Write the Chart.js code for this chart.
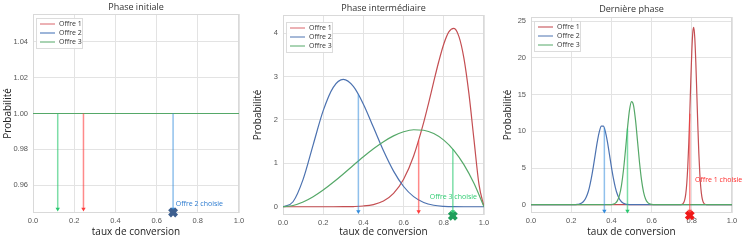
<!DOCTYPE html>
<html>
<head>
<meta charset="utf-8">
<script src="https://cdn.jsdelivr.net/npm/chart.js@4.4.1/dist/chart.umd.min.js"></script>
<style>
  body { margin: 0; background: #fff; width: 750px; height: 242px; position: relative; overflow: hidden; }
  .panel { position: absolute; top: 0; width: 250px; height: 242px; }
</style>
</head>
<body>
<div class="panel" style="left:0"><canvas id="c1" width="250" height="242"></canvas></div>
<div class="panel" style="left:250px"><canvas id="c2" width="250" height="242"></canvas></div>
<div class="panel" style="left:500px"><canvas id="c3" width="250" height="242"></canvas></div>
<script>
// --- donnees ---
const offres = ['Offre 1', 'Offre 2', 'Offre 3'];
const xTicks = [0, 0.2, 0.4, 0.6, 0.8, 1.0];

// phase initiale : lois uniformes
const p1X = [0, 1];
const p1Offre1 = [1, 1];
const p1Offre2 = [1, 1];
const p1Offre3 = [1, 1];
const p1YTicks = [0.96, 0.98, 1.00, 1.02, 1.04];
const p1Tirages = [0.245, 0.68, 0.12];
const p1Hauteurs = [1, 1, 1];

// phase intermediaire
const p2X = [0, 0.05, 0.1, 0.15, 0.2, 0.25, 0.3, 0.35, 0.4, 0.45, 0.5, 0.55, 0.6, 0.65, 0.7, 0.75, 0.8, 0.85, 0.9, 0.95, 1];
const p2Offre2 = [0, 0.115, 0.631, 1.428, 2.215, 2.753, 2.935, 2.773, 2.365, 1.831, 1.289, 0.821, 0.467, 0.233, 0.099, 0.034, 0.009, 0.001, 0, 0, 0];
const p2Offre3 = [0, 0.029, 0.108, 0.230, 0.384, 0.563, 0.756, 0.956, 1.152, 1.337, 1.5, 1.634, 1.728, 1.775, 1.764, 1.688, 1.536, 1.301, 0.972, 0.542, 0];
const p2XOffre1 = [0, 0.25, 0.3, 0.35, 0.4, 0.45, 0.5, 0.55, 0.6, 0.65, 0.7, 0.725, 0.75, 0.775, 0.8, 0.825, 0.85, 0.875, 0.9, 0.925, 0.95, 0.975, 1];
const p2Offre1 = [0, 0, 0.001, 0.005, 0.017, 0.051, 0.133, 0.308, 0.634, 1.170, 1.943, 2.401, 2.883, 3.348, 3.752, 4.030, 4.111, 3.928, 3.427, 2.606, 1.553, 0.517, 0];
const p2YTicks = [0, 1, 2, 3, 4];
const p2Tirages = [0.675, 0.375, 0.845];
const p2Hauteurs = [1.53, 2.59, 1.33];

// derniere phase
const p3XOffre1 = [0, 0.745, 0.75, 0.755, 0.76, 0.765, 0.77, 0.775, 0.78, 0.785, 0.79, 0.795, 0.8, 0.805, 0.81, 0.815, 0.82, 0.825, 0.83, 0.835, 0.84, 0.845, 0.85, 0.855, 0.86, 0.865, 0.87, 0.875, 1];
const p3Offre1 = [0, 0, 0.040, 0.114, 0.294, 0.691, 1.481, 2.893, 5.162, 8.399, 12.47, 16.88, 20.86, 23.50, 24.16, 22.65, 19.38, 15.12, 10.77, 6.994, 4.142, 2.240, 1.104, 0.496, 0.204, 0.076, 0.026, 0, 0];
const p3XOffre2 = [0, 0.21, 0.22, 0.23, 0.24, 0.25, 0.26, 0.27, 0.28, 0.29, 0.3, 0.31, 0.32, 0.33, 0.34, 0.35, 0.36, 0.37, 0.38, 0.39, 0.4, 0.41, 0.42, 0.43, 0.44, 0.45, 0.46, 0.47, 0.48, 0.49, 0.5, 1];
const p3Offre2 = [0, 0, 0.014, 0.036, 0.086, 0.193, 0.400, 0.772, 1.385, 2.308, 3.580, 5.156, 6.903, 8.594, 9.950, 10.70, 10.70, 9.950, 8.594, 6.903, 5.156, 3.580, 2.308, 1.385, 0.772, 0.400, 0.193, 0.086, 0.036, 0.014, 0, 0];
const p3XOffre3 = [0, 0.39, 0.4, 0.41, 0.42, 0.43, 0.44, 0.45, 0.46, 0.47, 0.48, 0.49, 0.5, 0.51, 0.52, 0.53, 0.54, 0.55, 0.56, 0.57, 0.58, 0.59, 0.6, 0.61, 0.62, 1];
const p3Offre3 = [0, 0, 0.021, 0.072, 0.212, 0.555, 1.279, 2.607, 4.688, 7.440, 10.42, 12.89, 14.06, 13.55, 11.52, 8.643, 5.725, 3.347, 1.727, 0.787, 0.316, 0.112, 0.035, 0.010, 0, 0];
const p3YTicks = [0, 5, 10, 15, 20, 25];
const p3Tirages = [0.79, 0.365, 0.48];
const p3Hauteurs = [12.4, 10.5, 10.4];

const couleurs = ['#c44e52', '#4c72b0', '#55a868'];
const couleursTirage = ['rgba(255,60,60,0.6)', 'rgba(52,140,220,0.55)', 'rgba(40,200,110,0.6)'];

function pts(xs, ys) {
    return xs.map((x, i) => ({ x: x, y: ys[i] }));
}

const decor = {
    id: 'decor',
    beforeDatasetsDraw(chart, args, o) {
        const { ctx, chartArea: a } = chart;
        ctx.save();
        ctx.strokeStyle = '#d9d9d9';
        ctx.lineWidth = 1;
        ctx.strokeRect(a.left + 0.5, a.top + 0.5, a.right - a.left - 1, a.bottom - a.top - 1);
        ctx.restore();
    },
    afterDraw(chart, args, o) {
        const { ctx, chartArea: a, scales } = chart;
        ctx.save();
        // titre
        ctx.fillStyle = '#333';
        ctx.font = '9px "Open Sans"';
        ctx.textAlign = 'center';
        ctx.textBaseline = 'middle';
        ctx.fillText(o.title, (a.left + a.right) / 2, o.titleY);
        // legende
        const lx = a.left + 3, ly = a.top + o.legendDy;
        ctx.fillStyle = 'rgba(255,255,255,0.9)';
        ctx.strokeStyle = '#dcdcdc';
        ctx.lineWidth = 1;
        ctx.fillRect(lx, ly, 46, 30);
        ctx.strokeRect(lx + 0.5, ly + 0.5, 46, 30);
        ctx.font = '7px "Open Sans"';
        ctx.textAlign = 'left';
        offres.forEach((nom, i) => {
            const yy = ly + 6 + i * 9;
            ctx.strokeStyle = o.legendColors[i];
            ctx.lineWidth = o.legendWidths[i];
            ctx.beginPath();
            ctx.moveTo(lx + 4, yy);
            ctx.lineTo(lx + 19, yy);
            ctx.stroke();
            ctx.fillStyle = '#333';
            ctx.fillText(nom, lx + 23, yy);
        });
        // annotation
        ctx.fillStyle = o.noteColor;
        ctx.font = '7px "Open Sans"';
        ctx.fillText(o.note, scales.x.getPixelForValue(o.noteX), scales.y.getPixelForValue(o.noteY));
        ctx.restore();
    }
};

function makeChart(id, cfg) {
    const datasets = [];
    // la derniere courbe (Offre 3) passe au-dessus
    cfg.curves.forEach((c, i) => {
        datasets.push({
            data: pts(c.x, c.y),
            borderColor: couleurs[i],
            borderWidth: 1.2,
            pointRadius: 0,
            cubicInterpolationMode: 'monotone',
            order: 10 - i
        });
    });
    cfg.tirages.forEach((t, i) => {
        datasets.push({
            data: [{ x: t, y: cfg.hauteurs[i] }, { x: t, y: cfg.arrowY }],
            borderColor: couleursTirage[i],
            backgroundColor: couleursTirage[i].replace(/0\.\d+\)/, '1)'),
            borderWidth: 1.5,
            pointRadius: [0, 2.5],
            pointStyle: 'triangle',
            pointRotation: 180,
            pointBorderWidth: 0,
            clip: false,
            order: 3 - i
        });
    });
    datasets.push({
        data: [{ x: cfg.tirages[cfg.choix], y: cfg.markY }],
        showLine: false,
        pointStyle: 'crossRot',
        pointRadius: 5,
        pointBorderWidth: 4,
        borderColor: cfg.markColor,
        backgroundColor: cfg.markColor,
        clip: false,
        order: 0
    });

    new Chart(document.getElementById(id), {
        type: 'line',
        data: { datasets: datasets },
        options: {
            responsive: false,
            animation: false,
            events: [],
            layout: { padding: { left: 0, right: cfg.pad.right, top: cfg.pad.top, bottom: 0 } },
            plugins: {
                legend: { display: false },
                tooltip: { enabled: false },
                decor: cfg.decor
            },
            scales: {
                x: {
                    type: 'linear',
                    min: 0,
                    max: 1,
                    afterBuildTicks: s => { s.ticks = xTicks.map(v => ({ value: v })); },
                    afterFit: s => { s.height = cfg.pad.bottom; },
                    ticks: {
                        callback: v => v.toFixed(1),
                        font: { size: 7.5, family: '"Liberation Sans"' },
                        color: '#555',
                        padding: 3,
                        maxRotation: 0
                    },
                    grid: { color: '#e3e3e3', drawTicks: false },
                    border: { display: false },
                    title: {
                        display: true,
                        text: 'taux de conversion',
                        font: { size: 10, family: '"Open Sans"' },
                        color: '#222',
                        padding: { top: 0, bottom: 4 }
                    }
                },
                y: {
                    type: 'linear',
                    min: cfg.yMin,
                    max: cfg.yMax,
                    afterBuildTicks: s => { s.ticks = cfg.yTicks.map(v => ({ value: v })); },
                    afterFit: s => { s.width = cfg.pad.left; },
                    ticks: {
                        callback: v => v.toFixed(cfg.yDec),
                        font: { size: 7.5, family: '"Liberation Sans"' },
                        color: '#555',
                        padding: 5
                    },
                    grid: { color: '#e3e3e3', drawTicks: false },
                    border: { display: false },
                    title: {
                        display: true,
                        text: 'Probabilité',
                        font: { size: 10, family: '"Open Sans"' },
                        color: '#222',
                        padding: { top: 2, bottom: 0 }
                    }
                }
            }
        },
        plugins: [decor]
    });
}

makeChart('c1', {
    curves: [{ x: p1X, y: p1Offre1 }, { x: p1X, y: p1Offre2 }, { x: p1X, y: p1Offre3 }],
    tirages: p1Tirages, hauteurs: p1Hauteurs, choix: 1,
    arrowY: 0.9468, markY: 0.9448, markColor: '#3d5f8f',
    yMin: 0.9445, yMax: 1.0555, yTicks: p1YTicks, yDec: 2,
    pad: { left: 33, right: 11, top: 14, bottom: 29 },
    decor: {
        title: 'Phase initiale', titleY: 7, legendDy: 4,
        legendColors: ['#d9656a', '#9db5d9', '#55a868'], legendWidths: [1, 2, 1],
        note: 'Offre 2 choisie', noteX: 0.693, noteY: 0.9495, noteColor: '#2b7bd0'
    }
});

makeChart('c2', {
    curves: [{ x: p2XOffre1, y: p2Offre1 }, { x: p2X, y: p2Offre2 }, { x: p2X, y: p2Offre3 }],
    tirages: p2Tirages, hauteurs: p2Hauteurs, choix: 2,
    arrowY: -0.11, markY: -0.21, markColor: '#1f9e5a',
    yMin: -0.19, yMax: 4.42, yTicks: p2YTicks, yDec: 0,
    pad: { left: 33, right: 16, top: 15, bottom: 27 },
    decor: {
        title: 'Phase intermédiaire', titleY: 8, legendDy: 7,
        legendColors: ['#d9656a', '#4c72b0', '#55a868'], legendWidths: [1, 1, 1],
        note: 'Offre 3 choisie', noteX: 0.73, noteY: 0.22, noteColor: '#2ecc71'
    }
});

makeChart('c3', {
    curves: [{ x: p3XOffre1, y: p3Offre1 }, { x: p3XOffre2, y: p3Offre2 }, { x: p3XOffre3, y: p3Offre3 }],
    tirages: p3Tirages, hauteurs: p3Hauteurs, choix: 0,
    arrowY: -0.85, markY: -1.45, markColor: '#f01818',
    yMin: -1.13, yMax: 25.58, yTicks: p3YTicks, yDec: 0,
    pad: { left: 31, right: 18, top: 17, bottom: 29 },
    decor: {
        title: 'Dernière phase', titleY: 9, legendDy: 4,
        legendColors: ['#e0a0a3', '#4c72b0', '#55a868'], legendWidths: [2, 1, 1],
        note: 'Offre 1 choisie', noteX: 0.816, noteY: 3.4, noteColor: '#ff2a2a'
    }
});
</script>
</body>
</html>
